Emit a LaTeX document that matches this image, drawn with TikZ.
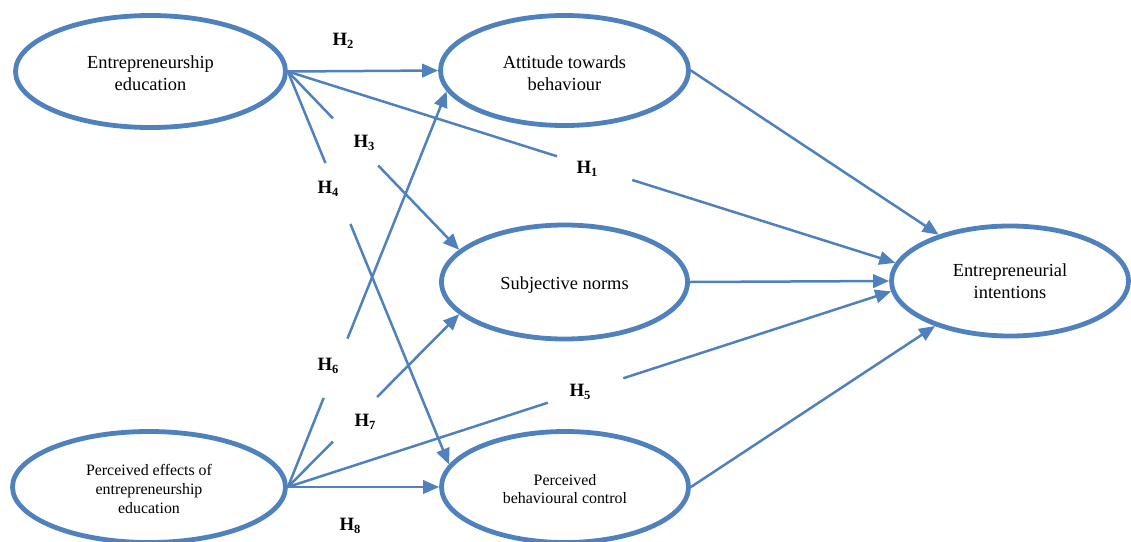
\documentclass[tikz,border=0pt]{standalone}
\usepackage{fontspec}
\setmainfont{Liberation Serif}
\usetikzlibrary{arrows.meta,calc,shapes.geometric}
\definecolor{oblue}{HTML}{4F81BD}
\tikzset{
  var/.style={ellipse, draw=oblue, line width=4.8pt, inner sep=0pt},
  vtext/.style={inner sep=0pt, align=center, text=black, font=\fontsize{18.4}{22}\selectfont},
  smalltext/.style={inner sep=0pt, align=center, text=black, font=\fontsize{15.9}{18.8}\selectfont},
  conn/.style={draw=oblue, line width=2.5pt},
  arr/.style={conn, -{Triangle[length=16pt,width=13.5pt]}},
  hlab/.style={inner sep=0pt, font=\fontsize{18.8}{20}\selectfont\bfseries},
}
\newcommand{\hsub}[1]{H\raisebox{-2.5pt}{\fontsize{12.5}{12.5}\selectfont #1}}
\begin{document}
\begin{tikzpicture}[x=1pt,y=-1pt]
\clip (0,0) rectangle (1131,541);
% variables
\node[var, minimum width=270pt, minimum height=112pt] (EE) at (150.5,71.5) {};
\node[var, minimum width=273pt, minimum height=111pt] (PE) at (149,487) {};
\node[var, minimum width=248pt, minimum height=110pt] (ATB) at (564.5,70.5) {};
\node[var, minimum width=246pt, minimum height=114pt] (SN) at (564.5,282) {};
\node[var, minimum width=247pt, minimum height=111pt] (PBC) at (565,487) {};
\node[var, minimum width=237pt, minimum height=110pt] (EI) at (1010,281) {};
% texts
\node[vtext] (EEt) at ([yshift=-2pt]EE.center) {Entrepreneurship\\education};
\node[smalltext] (PEt) at ([yshift=-2pt]PE.center) {Perceived effects of\\entrepreneurship\\education};
\node[vtext] (ATBt) at ([yshift=-3pt]ATB.center) {Attitude towards\\behaviour};
\node[vtext] (SNt) at ([yshift=-3.5pt]SN.center) {Subjective norms};
\node[smalltext] (PBCt) at ([yshift=-2pt]PBC.center) {Perceived\\behavioural control};
\node[vtext] (EIt) at ([yshift=-0.5pt]EI.center) {Entrepreneurial\\intentions};
% labels
\node[hlab] (h1) at (587,169) {\hsub{1}};
\node[hlab] (h2) at (343,41) {\hsub{2}};
\node[hlab] (h3) at (364,143) {\hsub{3}};
\node[hlab] (h4) at (328,189) {\hsub{4}};
\node[hlab] (h5) at (580,392) {\hsub{5}};
\node[hlab] (h6) at (328,366) {\hsub{6}};
\node[hlab] (h7) at (365,422) {\hsub{7}};
\node[hlab] (h8) at (350,526) {\hsub{8}};
% H2
\draw[arr] (EE.east) -- (ATB.west);
% H1
\draw[conn] (EE.east) -- ($(EE.east)!0.443!(EI.171.6)$);
\draw[arr] ($(EE.east)!0.567!(EI.171.6)$) -- (EI.171.6);
% H3
\draw[conn] (EE.east) -- ($(EE.east)!0.263!(SN.163.2)$);
\draw[arr] ($(EE.east)!0.527!(SN.163.2)$) -- (SN.163.2);
% H4
\draw[conn] (EE.east) -- ($(EE.east)!0.233!(PBC.169.6)$);
\draw[arr] ($(EE.east)!0.388!(PBC.169.6)$) -- (PBC.169.6);
% H8
\draw[arr] (PE.east) -- (PBC.west);
% H5
\draw[conn] (PE.east) -- ($(PE.east)!0.431!(EI.185.7)$);
\draw[arr] ($(PE.east)!0.556!(EI.185.7)$) -- (EI.185.7);
% H7
\draw[conn] (PE.east) -- ($(PE.east)!0.263!(SN.197.7)$);
\draw[arr] ($(PE.east)!0.521!(SN.197.7)$) -- (SN.197.7);
% H6
\draw[conn] (PE.east) -- ($(PE.east)!0.225!(ATB.190.8)$);
\draw[arr] ($(PE.east)!0.375!(ATB.190.8)$) -- (ATB.190.8);
% mediators to intentions
\draw[arr] (ATB.east) -- (EI.147);
\draw[arr] (SN.east) -- (EI.west);
\draw[arr] (PBC.east) -- (EI.211.4);
\end{tikzpicture}
\end{document}
